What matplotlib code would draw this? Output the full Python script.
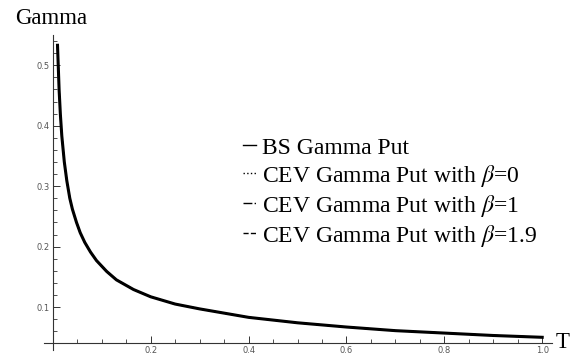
import numpy as np
import matplotlib.pyplot as plt
from matplotlib.ticker import MultipleLocator

plt.rcParams['mathtext.fontset'] = 'stix'

# values (the four curves overlap almost exactly)
T = [0.0096, 0.0129, 0.0155, 0.0184, 0.0235, 0.0286, 0.0347, 0.040, 0.0484,
     0.056, 0.0653, 0.077, 0.0892, 0.11, 0.13, 0.165, 0.2, 0.25, 0.3, 0.35,
     0.4, 0.5, 0.6, 0.7, 0.8, 0.9, 1.0]
bs_gamma = [0.533, 0.459, 0.418, 0.383, 0.340, 0.309, 0.280, 0.262, 0.240,
            0.223, 0.207, 0.191, 0.177, 0.159, 0.145, 0.129, 0.117, 0.105,
            0.097, 0.090, 0.083, 0.074, 0.067, 0.061, 0.057, 0.053, 0.050]
cev_b0 = list(bs_gamma)
cev_b1 = list(bs_gamma)
cev_b19 = list(bs_gamma)

labels = ['BS Gamma Put',
          r'CEV Gamma Put with $\beta$=0',
          r'CEV Gamma Put with $\beta$=1',
          r'CEV Gamma Put with $\beta$=1.9']

fig = plt.figure(figsize=(5.81, 3.6), dpi=100)
ax = fig.add_axes([44 / 581, 10 / 360, 508 / 581, 315 / 360])

ax.plot(T, bs_gamma, color='black', lw=2.2, ls='-', label=labels[0],
        solid_joinstyle='round')
ax.plot(T, cev_b0, color='black', lw=1.0, ls=':', label=labels[1])
ax.plot(T, cev_b1, color='black', lw=1.0, ls='-.', label=labels[2])
ax.plot(T, cev_b19, color='black', lw=1.0, ls='--', label=labels[3])

ax.set_xlim(-0.018, 1.02)
ax.set_ylim(0.029, 0.55)

# Mathematica style axes crossing near the origin
ax.spines['left'].set_position(('data', 0))
ax.spines['bottom'].set_position(('data', 0.04))
ax.spines['right'].set_visible(False)
ax.spines['top'].set_visible(False)
for s in ['left', 'bottom']:
    ax.spines[s].set_linewidth(0.8)
    ax.spines[s].set_color('#333333')

ax.xaxis.set_minor_locator(MultipleLocator(0.05))
ax.yaxis.set_minor_locator(MultipleLocator(0.02))
ax.set_xticks([0.2, 0.4, 0.6, 0.8, 1.0])
ax.set_xticklabels(['0.2', '0.4', '0.6', '0.8', '1.0'])
ax.set_yticks([0.1, 0.2, 0.3, 0.4, 0.5])
ax.set_yticklabels(['0.1', '0.2', '0.3', '0.4', '0.5'])
ax.tick_params(which='major', direction='in', length=5, width=0.7,
               labelsize=6, colors='#333333', labelcolor='#555555', pad=2)
ax.tick_params(which='minor', direction='in', length=3, width=0.6,
               colors='#333333')

fig.text(15 / 581, 1 - 18 / 360, 'Gamma', family='Liberation Serif',
         fontsize=16.5, va='center', ha='left')
fig.text(556 / 581, 1 - 343 / 360, 'T', family='Liberation Serif',
         fontsize=16.5, va='center', ha='left')

leg = ax.legend(loc='upper left', bbox_to_anchor=(243 / 581, 1 - 137 / 360),
                bbox_transform=fig.transFigure, frameon=False,
                prop={'family': 'Liberation Serif', 'size': 17},
                handlelength=0.55, handletextpad=0.25, labelspacing=0.17,
                borderpad=0, borderaxespad=0)
leg.get_lines()[0].set_linewidth(1.0)

fig.savefig('out.png', dpi=100)
